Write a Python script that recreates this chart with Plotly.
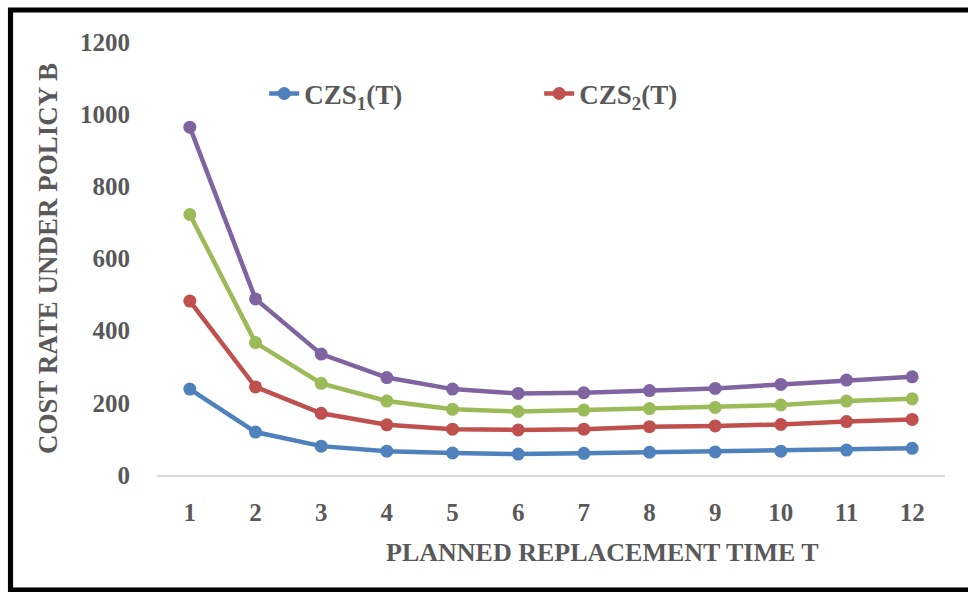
import plotly.graph_objects as go

# Planned replacement time T (categories on the x axis)
T = list(range(1, 13))

# Cost rate under policy B for each scenario
czs1 = [238, 119, 80, 66, 61, 58, 60, 63, 64, 66, 69, 74]
czs2 = [482, 244, 171, 139, 127, 125, 127, 134, 136, 140, 148, 154]
czs3 = [722, 367, 254, 205, 182, 176, 180, 184, 187, 194, 205, 211]
czs4 = [964, 488, 335, 270, 238, 226, 228, 234, 240, 251, 263, 272]

y_ticks = [0, 200, 400, 600, 800, 1000, 1200]

series = [
    ("CZS<sub>1</sub>(T)", czs1, "#4f81bd", True),
    ("CZS<sub>2</sub>(T)", czs2, "#c0504d", True),
    ("CZS<sub>3</sub>(T)", czs3, "#9bbb59", False),
    ("CZS<sub>4</sub>(T)", czs4, "#8064a2", False),
]

FONT = "Liberation Serif"
GREY = "#595959"

fig = go.Figure()
for name, vals, color, show in series:
    fig.add_trace(go.Scatter(
        x=T, y=vals, name=name, mode="lines+markers",
        line=dict(color=color, width=4.5),
        marker=dict(color=color, size=13),
        showlegend=show,
    ))

fig.update_layout(
    width=968, height=592,
    margin=dict(l=157, r=23, t=42, b=117),
    paper_bgcolor="white", plot_bgcolor="white",
    font=dict(family=FONT, color=GREY, size=24),
    legend=dict(
        orientation="h", x=0.136, y=0.88, xanchor="left", yanchor="middle",
        font=dict(family=FONT, size=27, color=GREY, weight="bold"),
        entrywidth=230, bgcolor="rgba(0,0,0,0)",
    ),
    xaxis=dict(
        range=[0.5, 12.5], tickvals=T, ticktext=[str(t) for t in T],
        showgrid=False, zeroline=False, showline=True,
        linecolor="#d9d9d9", linewidth=2, ticks="",
        ticklabelstandoff=14,
        tickfont=dict(family=FONT, size=25, color=GREY, weight="bold"),
    ),
    yaxis=dict(
        range=[0, 1200], tickvals=y_ticks, showgrid=False, zeroline=False,
        showline=False, ticks="", ticklabelstandoff=26,
        tickfont=dict(family=FONT, size=25, color=GREY, weight="bold"),
        title=dict(text="COST RATE UNDER POLICY B", standoff=14,
                   font=dict(family=FONT, size=27, color=GREY, weight="bold")),
    ),
    annotations=[
        dict(text="PLANNED REPLACEMENT TIME T", xref="paper", yref="paper",
             x=0.565, y=-0.18, xanchor="center", yanchor="middle",
             showarrow=False,
             font=dict(family=FONT, size=26, color=GREY, weight="bold")),
    ],
    shapes=[
        dict(type="rect", xref="paper", yref="paper",
             x0=-0.183, x1=1.1, y0=-0.262, y1=1.071,
             line=dict(color="#d9d9d9", width=2), fillcolor="rgba(0,0,0,0)",
             layer="below"),
        dict(type="rect", xref="paper", yref="paper",
             x0=-0.186, x1=1.1, y0=-0.2656, y1=1.0739,
             line=dict(color="black", width=5), fillcolor="rgba(0,0,0,0)",
             layer="below"),
    ],
)

fig.write_html("out.html")
